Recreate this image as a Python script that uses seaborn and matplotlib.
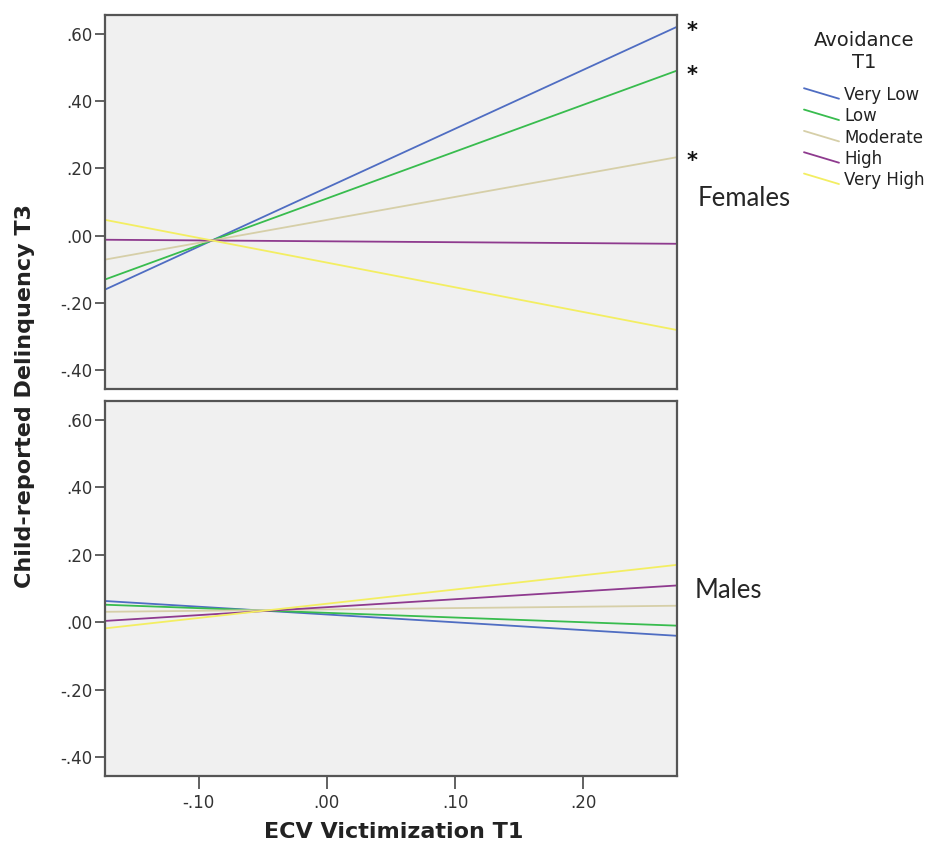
import numpy as np
import pandas as pd
import seaborn as sns
import matplotlib
matplotlib.use("Agg")
import matplotlib.pyplot as plt
from matplotlib.lines import Line2D
from matplotlib.legend_handler import HandlerBase

# ---- data ----
levels = ["Very Low", "Low", "Moderate", "High", "Very High"]
colors = ["#4F6DC2", "#38BC4E", "#D6CFA8", "#8E3A8E", "#F3EE62"]
x_range = [-0.173, 0.273]
females_left = [-0.160, -0.130, -0.071, -0.012, 0.047]
females_right = [0.620, 0.490, 0.233, -0.024, -0.280]
males_left = [0.063, 0.052, 0.031, 0.004, -0.018]
males_right = [-0.040, -0.010, 0.049, 0.109, 0.170]
significant_females = ["Very Low", "Low", "Moderate"]
y_ticks = [-0.40, -0.20, 0.00, 0.20, 0.40, 0.60]
y_tick_labels = ["-.40", "-.20", ".00", ".20", ".40", ".60"]
x_ticks = [-0.10, 0.00, 0.10, 0.20]
x_tick_labels = ["-.10", ".00", ".10", ".20"]


def make_df(left, right):
    rows = []
    for lev, l, r in zip(levels, left, right):
        rows.append({"x": x_range[0], "y": l, "Avoidance": lev})
        rows.append({"x": x_range[1], "y": r, "Avoidance": lev})
    return pd.DataFrame(rows)


df_f = make_df(females_left, females_right)
df_m = make_df(males_left, males_right)

sns.set_style("ticks")
plt.rcParams["font.family"] = ["DejaVu Sans"]

fig = plt.figure(figsize=(9.32, 8.49), dpi=100)
ax_top = fig.add_axes([105 / 932, 1 - 389 / 849, 572 / 932, 374 / 849])
ax_bot = fig.add_axes([105 / 932, 1 - 776 / 849, 572 / 932, 375 / 849])

palette = dict(zip(levels, colors))
frame_col = "#555555"
for ax, df in [(ax_top, df_f), (ax_bot, df_m)]:
    sns.lineplot(data=df, x="x", y="y", hue="Avoidance", hue_order=levels,
                 palette=palette, ax=ax, legend=False, linewidth=1.3)
    ax.set_facecolor("#F0F0F0")
    ax.set_xlim(x_range)
    ax.set_ylim(-0.455, 0.655)
    ax.set_yticks(y_ticks)
    ax.set_yticklabels(y_tick_labels)
    ax.set_xlabel("")
    ax.set_ylabel("")
    for s in ax.spines.values():
        s.set_color(frame_col)
        s.set_linewidth(1.6)
        s.set_visible(True)
    ax.tick_params(axis="y", direction="out", length=7, width=1.3, color=frame_col,
                   labelsize=12, labelcolor="#333333", pad=2)
    ax.tick_params(axis="x", direction="out", length=9, width=1.3, color=frame_col,
                   labelsize=12, labelcolor="#333333", pad=4)

ax_top.set_xticks([])
ax_bot.set_xticks(x_ticks)
ax_bot.set_xticklabels(x_tick_labels)

# significance stars
for lev, r in zip(levels, females_right):
    if lev in significant_females:
        ax_top.annotate("*", xy=(x_range[1], r), xytext=(7, -3), textcoords="offset points",
                        ha="left", va="center", fontsize=15, fontweight="bold",
                        family="DejaVu Sans", annotation_clip=False, color="#111111")

fig.text(698 / 932, 1 - 198 / 849, "Females", family="Lato", fontsize=18.5,
         ha="left", va="center")
fig.text(695 / 932, 1 - 590 / 849, "Males", family="Lato", fontsize=18.5,
         ha="left", va="center")

fig.text(394 / 932, 1 - 832 / 849, "ECV Victimization T1", fontsize=16,
         fontweight="bold", ha="center", va="center", color="#222222")
fig.text(25 / 932, 1 - 396 / 849, "Child-reported Delinquency T3", fontsize=16,
         fontweight="bold", ha="center", va="center", rotation=90, color="#222222")


class SlantHandler(HandlerBase):
    def create_artists(self, legend, orig_handle, xdescent, ydescent, width,
                       height, fontsize, trans):
        line = Line2D([-xdescent, -xdescent + width],
                      [-ydescent + height * 1.0, -ydescent + height * 0.1],
                      color=orig_handle.get_color(), lw=orig_handle.get_linewidth())
        line.set_transform(trans)
        return [line]


handles = [Line2D([0], [0], color=c, lw=1.3) for c in colors]
leg = fig.legend(handles, levels, loc="upper left",
                 bbox_to_anchor=(804 / 932, 1 - 31 / 849), frameon=False,
                 title="Avoidance\nT1", title_fontsize=14, fontsize=12,
                 handler_map={Line2D: SlantHandler()}, handlelength=2.1,
                 handletextpad=0.3, labelspacing=0.2, borderaxespad=0,
                 borderpad=0)
leg.get_title().set_multialignment("center")
leg.get_title().set_color("#222222")
leg._legend_box.sep = 10
for t in leg.get_texts():
    t.set_color("#222222")

fig.savefig("out.png", dpi=100)
